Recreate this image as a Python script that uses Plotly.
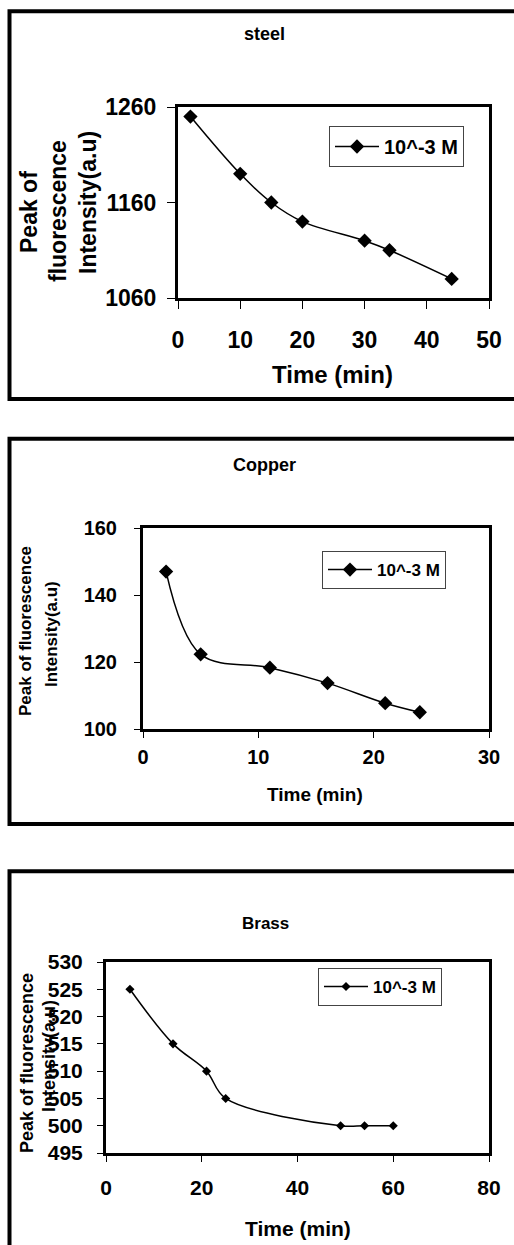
import plotly.graph_objects as go

# ---------------- data ----------------
steel_time = [2, 10, 15, 20, 30, 34, 44]
steel_peak = [1250, 1190, 1160, 1140, 1120, 1110, 1080]

copper_time = [2, 5, 11, 16, 21, 24]
copper_peak = [147, 122.3, 118.3, 113.7, 107.7, 105]

brass_time = [5, 14, 21, 25, 49, 54, 60]
brass_peak = [525, 515, 510, 505, 500, 500, 500]

series_name = "10^-3 M"
panel_titles = ["steel", "Copper", "Brass"]
x_title = "Time (min)"

# ---------------- layout helpers ----------------
W, H = 514, 1245
FONT = "Liberation Sans, Arial, Helvetica, sans-serif"


def px(x):
    return x / W


def py(y):
    return 1 - y / H


fig = go.Figure()

panels = [
    dict(t=steel_time, v=steel_peak, xd=(178, 489), yd=(107, 298), xr=[0, 50], xdt=10,
         yr=[1060, 1260], ydt=100, msize=11, tickfs=23,
         leg=(329, 126), leg_fs=20, tl=8, ystand=6, xstand=11),
    dict(t=copper_time, v=copper_peak, xd=(143, 489), yd=(528, 729), xr=[0, 30], xdt=10,
         yr=[100, 160], ydt=20, msize=11, tickfs=20,
         leg=(322, 551), leg_fs=17, tl=6, ystand=13, xstand=2),
    dict(t=brass_time, v=brass_peak, xd=(106, 489), yd=(962, 1153), xr=[0, 80], xdt=20,
         yr=[495, 530], ydt=5, msize=7, tickfs=21,
         leg=(318, 968), leg_fs=17, tl=6, ystand=10, xstand=8),
]

for i, p in enumerate(panels):
    n = "" if i == 0 else str(i + 1)
    legname = "legend" + n
    fig.add_trace(go.Scatter(
        x=p["t"], y=p["v"], mode="lines+markers", name=series_name,
        line=dict(color="black", width=1.5, shape="spline", smoothing=1.0),
        marker=dict(symbol="diamond", size=p["msize"], color="black"),
        xaxis="x" + n, yaxis="y" + n, legend=legname, showlegend=True,
    ))
    axis_common = dict(showline=True, linewidth=3, linecolor="black", mirror=True,
                       ticks="outside", ticklen=p["tl"], tickwidth=1, tickcolor="black",
                       showgrid=False, zeroline=False, automargin=False,
                       tickfont=dict(family=FONT, size=p["tickfs"], color="black", weight="bold"))
    fig.update_layout({
        "xaxis" + n: dict(domain=[px(p["xd"][0]), px(p["xd"][1])], range=p["xr"], dtick=p["xdt"],
                          tick0=0, anchor="y" + n, ticklabelstandoff=p["xstand"], **axis_common),
        "yaxis" + n: dict(domain=[py(p["yd"][1]), py(p["yd"][0])], range=p["yr"], dtick=p["ydt"],
                          tick0=p["yr"][0], anchor="x" + n, ticklabelstandoff=p["ystand"], **axis_common),
        legname: dict(x=px(p["leg"][0]), y=py(p["leg"][1]), xanchor="left", yanchor="top",
                      bgcolor="white", bordercolor="#444444", borderwidth=1, itemwidth=44,
                      font=dict(family=FONT, size=p["leg_fs"], color="black", weight="bold")),
    })

annotations = []


def ann(text, x, y, size, angle=0):
    annotations.append(dict(text=text, x=px(x), y=py(y), xref="paper", yref="paper",
                            xanchor="center", yanchor="middle", showarrow=False, textangle=angle,
                            font=dict(family=FONT, size=size, color="black", weight="bold")))


# panel titles
ann(panel_titles[0], 264, 34, 18)
ann(panel_titles[1], 264, 465, 18)
ann(panel_titles[2], 265, 923, 17)
# x axis titles
ann(x_title, 332, 375, 24)
ann(x_title, 315, 794, 19)
ann(x_title, 298, 1228, 21)
# y axis titles
ann("Peak of", 29, 212, 23, -90)
ann("fluorescence", 58, 211, 23, -90)
ann("Intensity(a.u)", 88, 203, 23, -90)
ann("Peak of fluorescence", 26, 631, 17, -90)
ann("Intensity(a.u)", 51, 634, 17, -90)
ann("Peak of fluorescence", 27, 1063, 18, -90)
ann("Intensity(a.u)", 49, 1056, 18, -90)

# outer frames of the three panels
shapes = []
for (top, bottom) in [(11.3, 399), (438.7, 824), (871.3, 1265)]:
    shapes.append(dict(type="rect", xref="paper", yref="paper",
                       x0=px(9.5), x1=px(530), y0=py(bottom), y1=py(top),
                       line=dict(color="black", width=4), fillcolor="rgba(0,0,0,0)"))

fig.update_layout(template="none", width=W, height=H, autosize=False,
                  margin=dict(l=0, r=0, t=0, b=0, pad=0),
                  paper_bgcolor="white", plot_bgcolor="white",
                  font=dict(family=FONT, color="black"),
                  annotations=annotations, shapes=shapes)

fig.write_html("out.html",
               config={"displayModeBar": False},
               post_script="document.body.style.margin='0';document.body.style.overflow='hidden';")
